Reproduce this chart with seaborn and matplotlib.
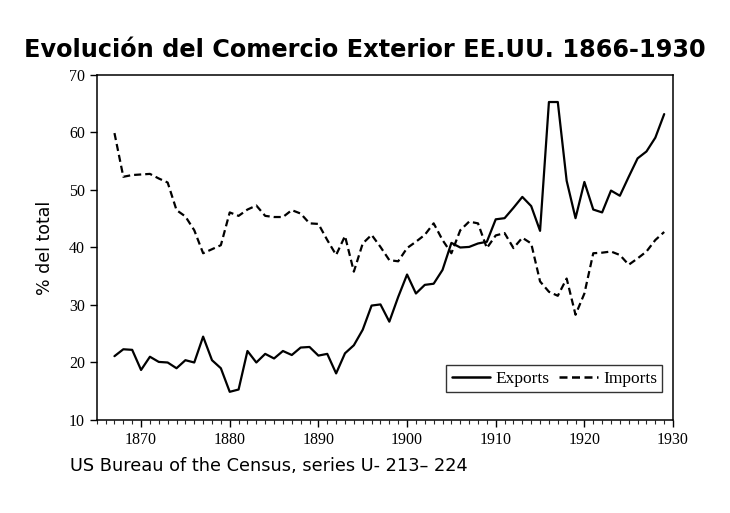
import numpy as np
import pandas as pd
import seaborn as sns
import matplotlib.pyplot as plt
from matplotlib.ticker import MultipleLocator

years = list(range(1867, 1930))

exports = [21.1, 22.3, 22.2, 18.7, 21.0, 20.1, 20.0, 19.0, 20.4, 20.0,
           24.5, 20.4, 19.0, 14.9, 15.3, 22.0, 20.0, 21.5, 20.7, 22.0,
           21.3, 22.6, 22.7, 21.2, 21.5, 18.1, 21.6, 23.0, 25.7, 29.9,
           30.1, 27.1, 31.4, 35.3, 32.0, 33.5, 33.7, 36.1, 40.8, 40.0,
           40.1, 40.7, 41.0, 44.9, 45.1, 46.9, 48.8, 47.2, 42.9, 65.3,
           65.3, 51.6, 45.1, 51.4, 46.6, 46.1, 49.9, 49.0, 52.3, 55.5,
           56.7, 59.1, 63.2]

imports = [59.9, 52.3, 52.6, 52.7, 52.8, 52.0, 51.3, 46.5, 45.4, 43.0,
           39.0, 39.7, 40.4, 46.1, 45.5, 46.6, 47.3, 45.5, 45.3, 45.3,
           46.5, 45.9, 44.2, 44.1, 41.3, 38.7, 42.0, 35.8, 40.7, 42.2,
           40.1, 37.8, 37.6, 39.9, 41.0, 42.2, 44.2, 41.3, 39.0, 43.0,
           44.5, 44.2, 39.9, 42.1, 42.5, 39.9, 41.7, 40.7, 34.1, 32.3,
           31.6, 34.6, 28.3, 32.0, 39.0, 39.1, 39.3, 38.7, 37.0, 38.1,
           39.3, 41.3, 42.7]

series_names = ["Exports", "Imports"]

df = pd.concat([
    pd.DataFrame({"year": years, "value": exports, "series": "Exports"}),
    pd.DataFrame({"year": years, "value": imports, "series": "Imports"}),
])

sns.set_style("ticks")
plt.rcParams["font.family"] = ["Liberation Serif", "DejaVu Serif"]
plt.rcParams["text.color"] = "black"
plt.rcParams["axes.labelcolor"] = "black"

fig = plt.figure(figsize=(7.3, 5.13), dpi=100)
ax = fig.add_axes([0.1325, 0.1813, 0.7895, 0.6725])

sns.lineplot(data=df, x="year", y="value", style="series",
             style_order=series_names,
             dashes={"Exports": "", "Imports": (3.2, 1.8)},
             color="black", linewidth=1.6, ax=ax)

ax.set_xlim(1865, 1930)
ax.set_ylim(10, 70)
ax.xaxis.set_major_locator(MultipleLocator(10))
ax.xaxis.set_minor_locator(MultipleLocator(1))
ax.yaxis.set_major_locator(MultipleLocator(10))
ax.tick_params(axis="both", which="major", direction="out", length=5,
               width=1, labelsize=11.5, colors="black")
ax.tick_params(axis="x", which="minor", direction="out", length=3, width=0.8)
for s in ax.spines.values():
    s.set_visible(True)
    s.set_linewidth(1.1)
    s.set_color("black")

ax.set_xlabel("")
ax.set_ylabel("% del total", family=["DejaVu Sans"], fontsize=12.5,
              labelpad=11, color="black")

leg = ax.legend(ncol=2, loc="lower right", bbox_to_anchor=(0.981, 0.081),
                borderaxespad=0, frameon=True, fancybox=False, fontsize=12.5,
                handlelength=2.2, handletextpad=0.3, columnspacing=0.6,
                borderpad=0.3)
leg.get_frame().set_edgecolor("black")
leg.get_frame().set_linewidth(1.0)
for h in leg.get_lines():
    h.set_linewidth(1.8)

fig.text(0.5, 0.903, "Evolución del Comercio Exterior EE.UU. 1866-1930",
         ha="center", va="center", fontsize=17.3, fontweight="bold",
         family=["DejaVu Sans"], color="black")
fig.text(0.096, 0.092, "US Bureau of the Census, series U- 213\u2013 224",
         ha="left", va="center", fontsize=12.8, family=["DejaVu Sans"],
         color="black")

fig.savefig("out.png", dpi=100)
